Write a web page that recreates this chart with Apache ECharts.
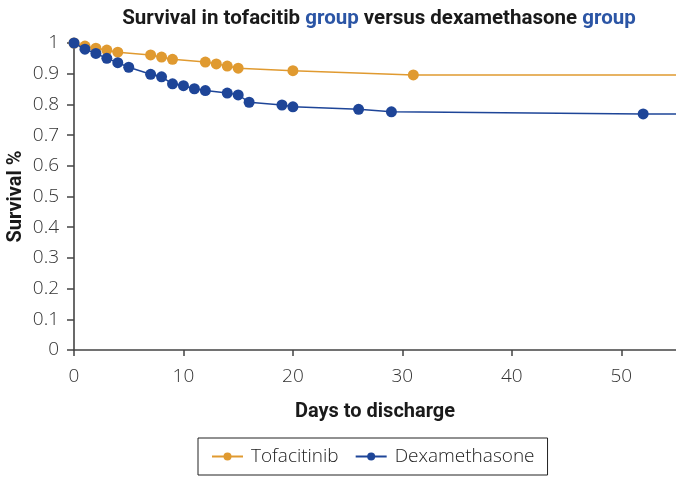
<!DOCTYPE html>
<html>
<head>
<meta charset="utf-8">
<script src="https://cdn.jsdelivr.net/npm/echarts@6/dist/echarts.min.js"></script>
<style>
html,body{margin:0;padding:0;background:#fff;}
#chart{width:676px;height:478px;}
</style>
</head>
<body>
<div id="chart"></div>
<script>
// Data
const seriesNames = ['Tofacitinib', 'Dexamethasone'];
const tofaDays     = [0, 1, 2, 3, 4, 7, 8, 9, 12, 13, 14, 15, 20, 31];
const tofaSurvival = [1, 0.990, 0.983, 0.977, 0.970, 0.961, 0.954, 0.947, 0.938, 0.932, 0.925, 0.918, 0.910, 0.896];
const dexaDays     = [0, 1, 2, 3, 4, 5, 7, 8, 9, 10, 11, 12, 14, 15, 16, 19, 20, 26, 29, 52];
const dexaSurvival = [1, 0.980, 0.966, 0.950, 0.936, 0.921, 0.898, 0.890, 0.867, 0.861, 0.851, 0.845, 0.837, 0.831, 0.807, 0.798, 0.792, 0.784, 0.776, 0.769];
const xTicks = [0, 10, 20, 30, 40, 50];
const xMax = 55;

const orange = '#E09A30';
const blue = '#1E4598';

function buildData(days, vals) {
  const d = days.map((x, i) => [x, vals[i]]);
  // survival curve continues flat to the end of the axis (no marker)
  d.push({ value: [xMax, vals[vals.length - 1]], symbol: 'none' });
  return d;
}

const chart = echarts.init(document.getElementById('chart'), null, { renderer: 'canvas' });
const labelFont = '"Open Sans", "Lato", sans-serif';
const boldFont = 'Roboto, "Liberation Sans", sans-serif';

chart.setOption({
  animation: false,
  backgroundColor: '#fff',
  title: {
    text: '{a|Survival in tofacitib }{b|group}{a| versus dexamethasone }{b|group}',
    left: 374,
    top: 3,
    textAlign: 'center',
    textStyle: {
      rich: {
        a: { fontFamily: boldFont, fontWeight: 'bold', fontSize: 20.5, color: '#1a1a1a' },
        b: { fontFamily: boldFont, fontWeight: 'bold', fontSize: 20.5, color: '#2B55A5' }
      }
    }
  },
  legend: {
    data: seriesNames,
    left: 198,
    top: 438,
    padding: [9, 13, 9, 13],
    borderColor: '#222',
    borderWidth: 1,
    itemGap: 16,
    itemWidth: 31,
    itemHeight: 10,
    textStyle: { fontFamily: labelFont, fontWeight: 300, fontSize: 19, color: '#222', padding: [0, 0, 0, 3] }
  },
  grid: { left: 74, right: 0, top: 43, bottom: 128, containLabel: false, outerBoundsMode: 'none' },
  xAxis: {
    type: 'value',
    min: 0,
    max: xMax,
    interval: 10,
    name: 'Days to discharge',
    nameLocation: 'middle',
    nameGap: 52,
    nameMoveOverlap: false,
    nameTextStyle: { fontFamily: boldFont, fontWeight: 'bold', fontSize: 20, color: '#1a1a1a' },
    axisLine: { show: true, lineStyle: { color: '#444', width: 1.6 } },
    axisTick: { show: true, length: 6, lineStyle: { color: '#444', width: 1.5 }, customValues: xTicks },
    axisLabel: { fontFamily: labelFont, fontWeight: 300, fontSize: 19, color: '#333', margin: 17, customValues: xTicks },
    splitLine: { show: false }
  },
  yAxis: {
    type: 'value',
    min: 0,
    max: 1,
    interval: 0.1,
    name: 'Survival %',
    nameLocation: 'middle',
    nameGap: 48,
    nameMoveOverlap: false,
    nameTextStyle: { fontFamily: boldFont, fontWeight: 'bold', fontSize: 20, color: '#1a1a1a' },
    axisLine: { show: true, lineStyle: { color: '#444', width: 1.6 } },
    axisTick: { show: true, length: 7, lineStyle: { color: '#444', width: 1.5 } },
    axisLabel: {
      fontFamily: labelFont, fontWeight: 300, fontSize: 19, color: '#333', margin: 15,
      formatter: v => (Math.round(v * 10) / 10).toString()
    },
    splitLine: { show: false }
  },
  series: [
    {
      name: seriesNames[0],
      type: 'line',
      data: buildData(tofaDays, tofaSurvival),
      symbol: 'circle',
      symbolSize: 11,
      showAllSymbol: true,
      color: orange,
      lineStyle: { color: orange, width: 1.5 },
      itemStyle: { color: orange },
      z: 2
    },
    {
      name: seriesNames[1],
      type: 'line',
      data: buildData(dexaDays, dexaSurvival),
      symbol: 'circle',
      symbolSize: 11,
      showAllSymbol: true,
      color: blue,
      lineStyle: { color: blue, width: 1.5 },
      itemStyle: { color: blue },
      z: 3
    }
  ]
});
</script>
</body>
</html>
